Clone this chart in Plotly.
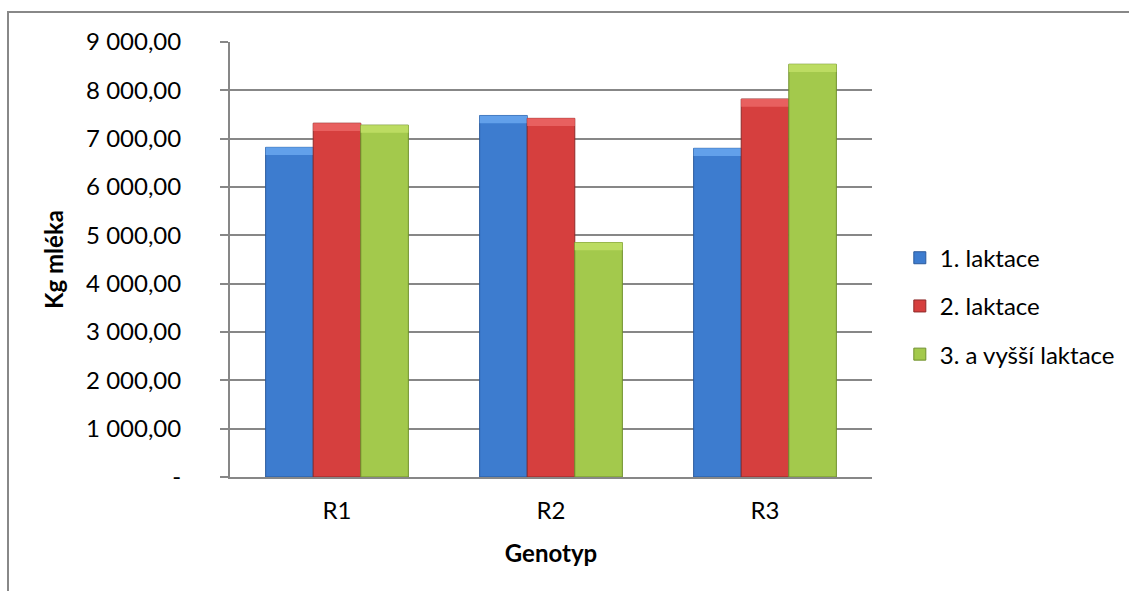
import plotly.graph_objects as go

# Milk yield (kg) per genotype and lactation group
genotypes = ["R1", "R2", "R3"]
laktace_1 = [6820, 7480, 6800]
laktace_2 = [7320, 7420, 7820]
laktace_3 = [7280, 4850, 8540]
series_names = ["1. laktace", "2. laktace", "3. a vyšší laktace"]

y_ticks = [0, 1000, 2000, 3000, 4000, 5000, 6000, 7000, 8000, 9000]
y_tick_text = ["-", "1 000,00", "2 000,00", "3 000,00", "4 000,00",
               "5 000,00", "6 000,00", "7 000,00", "8 000,00", "9 000,00"]

fills = ["#3d7ccf", "#d63f3e", "#a3c94c"]
caps = ["#62a0ea", "#e8605f", "#bcdc62"]
edges = ["#2a5a9c", "#8e2a29", "#6f8f2c"]
CAP = 160  # height of the lighter bevel strip on top of each bar, in kg

FONT = "Lato, 'Open Sans', sans-serif"

fig = go.Figure()
for i, (name, vals) in enumerate(zip(series_names, [laktace_1, laktace_2, laktace_3])):
    fig.add_trace(go.Bar(
        x=genotypes, y=vals, name=name, legendgroup=f"g{i}", offsetgroup=str(i),
        marker=dict(color=fills[i], line=dict(color=edges[i], width=1)),
    ))
    # bevel highlight along the top edge of each bar
    fig.add_trace(go.Bar(
        x=genotypes, y=[CAP] * len(vals), base=[v - CAP for v in vals],
        offsetgroup=str(i), showlegend=False, hoverinfo="skip",
        marker=dict(color=caps[i], line=dict(width=0)),
    ))

fig.update_layout(
    width=1129, height=591,
    margin=dict(l=230, r=257, t=42, b=114, autoexpand=False),
    paper_bgcolor="white", plot_bgcolor="white",
    barmode="group", bargap=0.333, bargroupgap=0,
    font=dict(family=FONT, size=24, color="black"),
    showlegend=True,
    legend=dict(xref="container", yref="container", x=0.797, y=0.482,
                xanchor="left", yanchor="middle",
                font=dict(size=24, family=FONT), tracegroupgap=14,
                bgcolor="rgba(0,0,0,0)", itemwidth=30),
    xaxis=dict(showline=True, linecolor="#878787", linewidth=2, ticks="",
               tickfont=dict(size=24), ticklabelstandoff=11,
               title=dict(text="<b>Genotyp</b>", font=dict(size=24), standoff=22),
               fixedrange=True),
    yaxis=dict(range=[0, 9000], tickvals=y_ticks, ticktext=y_tick_text,
               showline=True, linecolor="#878787", linewidth=2,
               ticks="outside", ticklen=8, tickcolor="#878787", tickwidth=2,
               showgrid=True, gridcolor="#878787", gridwidth=2,
               zeroline=False, tickfont=dict(size=24), ticklabelstandoff=34,
               title=dict(text="<b>Kg mléka</b>", font=dict(size=24), standoff=16)),
    shapes=[dict(type="rect", xref="paper", yref="paper",
                 x0=-0.3458, x1=1.6, y0=-0.6, y1=1.069,
                 line=dict(color="#888888", width=2), fillcolor="rgba(0,0,0,0)", layer="below")],
)

fig.write_html("out.html")
